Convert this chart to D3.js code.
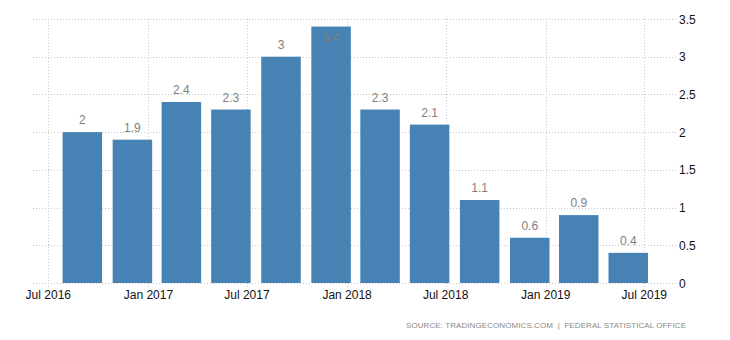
<!DOCTYPE html>
<html>
<head>
<meta charset="utf-8">
<script src="https://cdn.jsdelivr.net/npm/d3@7"></script>
<style>
  html, body { margin: 0; padding: 0; background: #fff; }
  svg { display: block; font-family: "Liberation Sans", Arial, sans-serif; }
</style>
</head>
<body>
<svg id="chart" width="730" height="340"></svg>
<script>
// Quarterly GDP growth rate, year on year (%)
const quarters = ["2016-Q3", "2016-Q4", "2017-Q1", "2017-Q2", "2017-Q3", "2017-Q4",
                  "2018-Q1", "2018-Q2", "2018-Q3", "2018-Q4", "2019-Q1", "2019-Q2"];
const values = [2, 1.9, 2.4, 2.3, 3, 3.4, 2.3, 2.1, 1.1, 0.6, 0.9, 0.4];
const xTickDates = ["2016-07-01", "2017-01-01", "2017-07-01", "2018-01-01",
                    "2018-07-01", "2019-01-01", "2019-07-01"];
const yTicks = [0, 0.5, 1, 1.5, 2, 2.5, 3, 3.5];
const sourceText = "SOURCE: TRADINGECONOMICS.COM  |  FEDERAL STATISTICAL OFFICE";

const svg = d3.select("#chart");
const plot = { left: 33, right: 677, top: 19, bottom: 283 };

// quarter string -> last day of that quarter
const quarterEnd = q => {
  const [yr, qq] = q.split("-Q").map(Number);
  return new Date(yr, qq * 3, 0);
};
const parse = d3.timeParse("%Y-%m-%d");
const fmt = d3.timeFormat("%b %Y");

const x = d3.scaleTime()
  .domain([parse("2016-07-01"), parse("2019-07-01")])
  .range([48.3, 644.3]);
const y = d3.scaleLinear().domain([0, 3.5]).range([plot.bottom, plot.top]);

const barW = 39.5;
const barShift = -15.5; // bar centre sits a little before the quarter's last day

const data = quarters.map((q, i) => ({ q, date: quarterEnd(q), v: values[i] }));

// horizontal grid
svg.append("g").selectAll("line").data(yTicks).join("line")
  .attr("x1", plot.left).attr("x2", plot.right)
  .attr("y1", d => Math.round(y(d)) + 0.5).attr("y2", d => Math.round(y(d)) + 0.5)
  .attr("stroke", "#c8c8c8").attr("stroke-width", 1).attr("stroke-dasharray", "1,2");

// vertical grid + small ticks under the axis
const xt = xTickDates.map(parse);
svg.append("g").selectAll("line").data(xt).join("line")
  .attr("x1", d => Math.round(x(d)) + 0.5).attr("x2", d => Math.round(x(d)) + 0.5)
  .attr("y1", plot.top).attr("y2", plot.bottom + 5)
  .attr("stroke", "#c8c8c8").attr("stroke-width", 1).attr("stroke-dasharray", "1,2");

// bars
svg.append("g").selectAll("rect").data(data).join("rect")
  .attr("x", d => x(d.date) + barShift - barW / 2)
  .attr("width", barW)
  .attr("y", d => y(d.v))
  .attr("height", d => y(0) - y(d.v))
  .attr("fill", "#4682b4");

// value labels (kept inside the plot when a bar reaches the top)
svg.append("g").selectAll("text").data(data).join("text")
  .attr("x", d => x(d.date) + barShift)
  .attr("y", d => Math.max(y(d.v) - 8, 42))
  .attr("text-anchor", "middle")
  .attr("font-size", 12)
  .attr("fill", "#808080")
  .text(d => d3.format("")(d.v));

// x-axis labels
svg.append("g").selectAll("text").data(xt).join("text")
  .attr("x", d => x(d))
  .attr("y", 299)
  .attr("text-anchor", "middle")
  .attr("font-size", 12)
  .attr("fill", "#111")
  .text(d => fmt(d));

// y-axis labels on the right
svg.append("g").selectAll("text").data(yTicks).join("text")
  .attr("x", 679)
  .attr("y", d => y(d) + 4.5)
  .attr("font-size", 12)
  .attr("fill", "#111")
  .text(d => d3.format("")(d));

// source note
svg.append("text")
  .attr("x", 406).attr("y", 328)
  .attr("font-size", 8)
  .attr("fill", "#8a8a8a")
  .attr("textLength", 280)
  .attr("lengthAdjust", "spacing")
  .style("white-space", "pre")
  .text(sourceText);
</script>
</body>
</html>
